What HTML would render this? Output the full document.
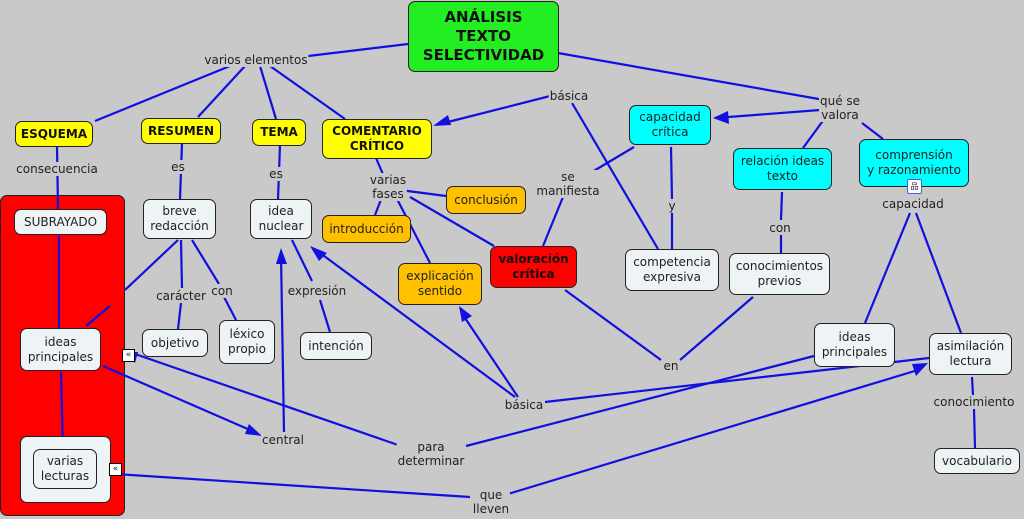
<!DOCTYPE html>
<html><head><meta charset="utf-8"><style>
html,body{margin:0;padding:0}
body{width:1024px;height:519px;background:#c9c9c9;position:relative;overflow:hidden;font-family:"DejaVu Sans","Liberation Sans",sans-serif;font-size:12px;color:#222}
.n{position:absolute;box-sizing:border-box;border:1px solid #222;border-radius:7px;background:#eef3f5;display:flex;align-items:center;justify-content:center;text-align:center;line-height:15px}
.y{background:#ffff00;font-weight:bold;color:#111}
.o{background:#ffc000}
.c{background:#00ffff}
.r{background:#ff0000}
.l{position:absolute;transform:translate(-50%,-50%);text-align:center;line-height:14px;white-space:nowrap;background:#c9c9c9;padding:0 1px}
svg{position:absolute;left:0;top:0}
</style></head><body>
<div class="n r" style="left:0px;top:195px;width:125px;height:321px"></div>
<svg width="1024" height="519" stroke="#1010e0" stroke-width="2.2" fill="none">
<g>
<line x1="408" y1="44" x2="300" y2="57"/>
<line x1="558" y1="53" x2="830" y2="101"/>
<line x1="230" y1="66" x2="95" y2="121"/>
<line x1="245" y1="66" x2="198" y2="117"/>
<line x1="260" y1="66" x2="276" y2="119"/>
<line x1="270" y1="66" x2="345" y2="119"/>
<line x1="57" y1="146" x2="58" y2="209"/>
<line x1="182" y1="143" x2="180" y2="199"/>
<line x1="280" y1="145" x2="278" y2="199"/>
<line x1="376" y1="158" x2="388" y2="186"/>
<line x1="400" y1="190" x2="446" y2="196"/>
<line x1="382" y1="197" x2="375" y2="215"/>
<line x1="396" y1="197" x2="430" y2="263"/>
<line x1="410" y1="197" x2="494" y2="246"/>
<line x1="558" y1="94" x2="440" y2="124"/>
<line x1="572" y1="103" x2="658" y2="249"/>
<line x1="820" y1="110" x2="715" y2="118"/>
<line x1="825" y1="118" x2="803" y2="148"/>
<line x1="862" y1="123" x2="883" y2="139"/>
<line x1="634" y1="147" x2="592" y2="172"/>
<line x1="563" y1="197" x2="543" y2="246"/>
<line x1="671" y1="147" x2="672" y2="200"/>
<line x1="672" y1="213" x2="672" y2="249"/>
<line x1="782" y1="192" x2="781" y2="220"/>
<line x1="781" y1="235" x2="781" y2="253"/>
<line x1="910" y1="213" x2="865" y2="323"/>
<line x1="916" y1="213" x2="961" y2="333"/>
<line x1="972" y1="377" x2="973" y2="395"/>
<line x1="974" y1="409" x2="975" y2="448"/>
<line x1="565" y1="290" x2="661" y2="360"/>
<line x1="753" y1="297" x2="680" y2="360"/>
<line x1="178" y1="240" x2="125" y2="290"/>
<line x1="110" y1="306" x2="86" y2="326"/>
<line x1="181" y1="240" x2="182" y2="288"/>
<line x1="181" y1="303" x2="178" y2="329"/>
<line x1="192" y1="240" x2="219" y2="284"/>
<line x1="224" y1="297" x2="236" y2="320"/>
<line x1="292" y1="240" x2="312" y2="281"/>
<line x1="320" y1="300" x2="330" y2="332"/>
<line x1="284" y1="432" x2="281" y2="255"/>
<line x1="515" y1="397" x2="316" y2="250"/>
<line x1="518" y1="397" x2="465" y2="318"/>
<line x1="545" y1="402" x2="929" y2="358"/>
<line x1="466" y1="446" x2="814" y2="356"/>
<line x1="398" y1="445" x2="135" y2="354"/>
<line x1="103" y1="366" x2="250" y2="430"/>
<line x1="508" y1="494" x2="918" y2="370"/>
<line x1="100" y1="473" x2="470" y2="497"/>
<line x1="59" y1="236" x2="59" y2="328"/>
<line x1="61" y1="372" x2="63" y2="449"/>
</g>
<g fill="#1010e0" stroke="none">
<polygon points="433,126 448,115 451,125"/>
<polygon points="713,118 728,111 729,124"/>
<polygon points="281,248 276,264 287,264"/>
<polygon points="310,246 319,261 327,253"/>
<polygon points="459,306 462,322 472,316"/>
<polygon points="121,352 138,352 135,363"/>
<polygon points="262,436 249,424 245,434"/>
<polygon points="928,363 912,364 916,376"/>
</g>
</svg>

<div class="n" style="left:408px;top:1px;width:151px;height:71px;background:#22ee22;font-weight:bold;font-size:15px;line-height:19px;color:#111">ANÁLISIS<br>TEXTO<br>SELECTIVIDAD</div>
<div class="n y" style="left:15px;top:121px;width:78px;height:26px">ESQUEMA</div>
<div class="n y" style="left:141px;top:118px;width:80px;height:26px">RESUMEN</div>
<div class="n y" style="left:252px;top:119px;width:54px;height:27px">TEMA</div>
<div class="n y" style="left:322px;top:119px;width:110px;height:40px">COMENTARIO<br>CRÍTICO</div>

<div class="n" style="left:14px;top:209px;width:93px;height:26px">SUBRAYADO</div>
<div class="n" style="left:20px;top:328px;width:81px;height:43px">ideas<br>principales</div>
<div class="n" style="left:20px;top:436px;width:91px;height:67px"></div>
<div class="n" style="left:33px;top:449px;width:64px;height:40px">varias<br>lecturas</div>

<div class="n" style="left:143px;top:199px;width:73px;height:40px">breve<br>redacción</div>
<div class="n" style="left:250px;top:199px;width:62px;height:40px">idea<br>nuclear</div>
<div class="n o" style="left:322px;top:215px;width:89px;height:28px">introducción</div>
<div class="n o" style="left:446px;top:186px;width:80px;height:28px">conclusión</div>
<div class="n o" style="left:398px;top:263px;width:84px;height:42px">explicación<br>sentido</div>
<div class="n r" style="left:490px;top:246px;width:87px;height:42px;font-weight:bold;color:#111">valoración<br>crítica</div>
<div class="n" style="left:142px;top:329px;width:66px;height:28px">objetivo</div>
<div class="n" style="left:219px;top:320px;width:56px;height:44px">léxico<br>propio</div>
<div class="n" style="left:300px;top:332px;width:72px;height:28px">intención</div>

<div class="n c" style="left:629px;top:105px;width:82px;height:40px">capacidad<br>crítica</div>
<div class="n c" style="left:733px;top:148px;width:99px;height:42px">relación ideas<br>texto</div>
<div class="n c" style="left:859px;top:139px;width:110px;height:48px">comprensión<br>y razonamiento</div>
<div class="n" style="left:625px;top:249px;width:94px;height:42px">competencia<br>expresiva</div>
<div class="n" style="left:729px;top:253px;width:101px;height:42px">conocimientos<br>previos</div>
<div class="n" style="left:814px;top:323px;width:81px;height:44px">ideas<br>principales</div>
<div class="n" style="left:929px;top:333px;width:83px;height:42px">asimilación<br>lectura</div>
<div class="n" style="left:934px;top:448px;width:86px;height:26px">vocabulario</div>

<div class="l" style="left:256px;top:60px">varios elementos</div>
<div class="l" style="left:57px;top:169px">consecuencia</div>
<div class="l" style="left:178px;top:167px">es</div>
<div class="l" style="left:276px;top:174px">es</div>
<div class="l" style="left:388px;top:187px">varias<br>fases</div>
<div class="l" style="left:569px;top:96px">básica</div>
<div class="l" style="left:840px;top:108px">qué se<br>valora</div>
<div class="l" style="left:568px;top:184px">se<br>manifiesta</div>
<div class="l" style="left:672px;top:206px">y</div>
<div class="l" style="left:780px;top:228px">con</div>
<div class="l" style="left:913px;top:204px">capacidad</div>
<div class="l" style="left:181px;top:296px">carácter</div>
<div class="l" style="left:222px;top:291px">con</div>
<div class="l" style="left:317px;top:291px">expresión</div>
<div class="l" style="left:671px;top:366px">en</div>
<div class="l" style="left:524px;top:405px">básica</div>
<div class="l" style="left:283px;top:440px">central</div>
<div class="l" style="left:431px;top:454px">para<br>determinar</div>
<div class="l" style="left:491px;top:502px">que<br>lleven</div>
<div class="l" style="left:974px;top:402px">conocimiento</div>

<div style="position:absolute;left:122px;top:349px;width:11px;height:11px;background:#fff;border:1px solid #000;font-size:9px;line-height:11px;text-align:center">«</div>
<div style="position:absolute;left:109px;top:463px;width:11px;height:11px;background:#fff;border:1px solid #000;font-size:9px;line-height:11px;text-align:center">«</div>
<div style="position:absolute;left:907px;top:179px;width:13px;height:13px;background:#fff;border:1px solid #4466cc;border-radius:2px;font-size:8px;line-height:13px;text-align:center;color:#224">品</div>
</body></html>
